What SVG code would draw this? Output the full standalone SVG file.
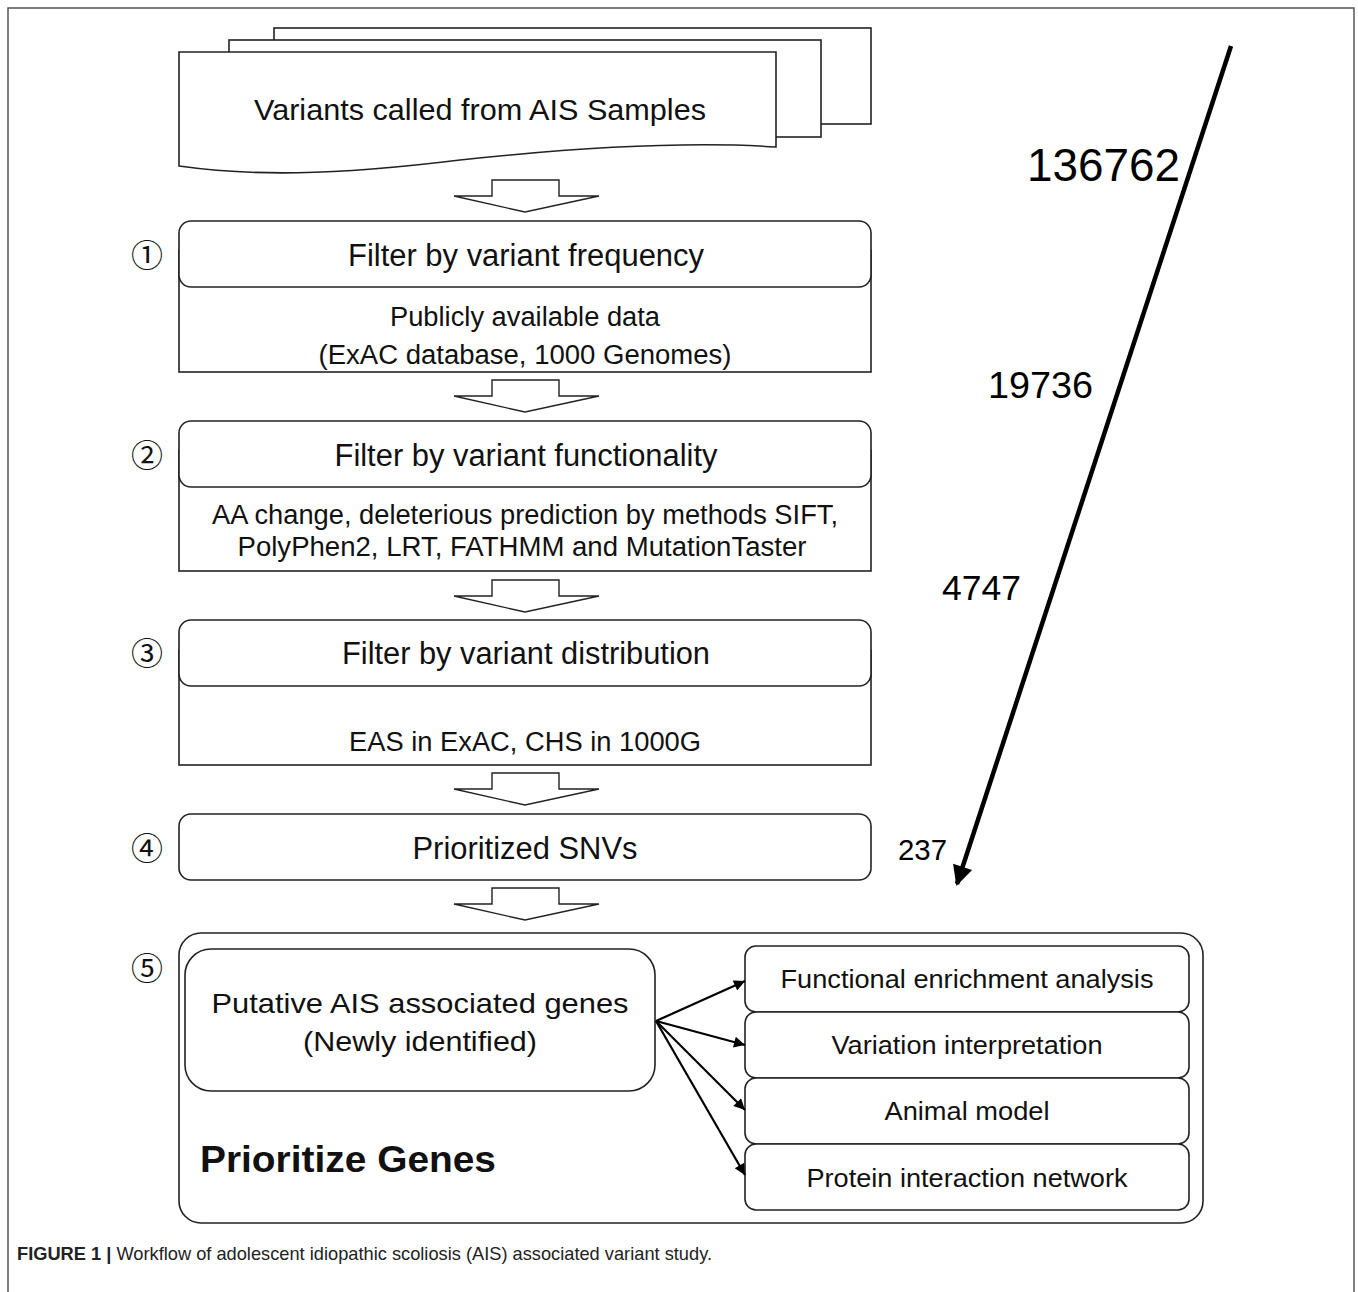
<svg xmlns="http://www.w3.org/2000/svg" width="1358" height="1292" viewBox="0 0 1358 1292">
<defs>
<style>
.box{fill:#fff;stroke:#222;stroke-width:1.6}
.blk{fill:#fff;stroke:#222;stroke-width:1.4}
.t{font-family:"Liberation Sans",Arial,sans-serif;fill:#111;text-anchor:middle}
.h{font-size:31px}
.b{font-size:27px}
.r{font-size:26px}
.num{font-family:"Liberation Sans",Arial,sans-serif;fill:#000}
.circ{font-family:"Noto Sans CJK KR","DejaVu Sans",sans-serif;font-size:32px;fill:#111;text-anchor:middle}
.con{stroke:#000;stroke-width:2.2;fill:none}
</style>
<marker id="ah" viewBox="0 0 10 10" refX="10" refY="5" markerWidth="14" markerHeight="11" markerUnits="userSpaceOnUse" orient="auto"><path d="M0,0 L10,5 L0,10 Z" fill="#000"/></marker>
<marker id="bigah" viewBox="0 0 10 10" refX="9" refY="5" markerWidth="24" markerHeight="20" markerUnits="userSpaceOnUse" orient="auto"><path d="M0,0 L10,5 L0,10 Z" fill="#000"/></marker>
</defs>
<path d="M8,1292 V8 H1354 V1292" fill="none" stroke="#555" stroke-width="1.5"/>

<g id="docs">
<rect class="box" x="274" y="28" width="597" height="96"/>
<rect class="box" x="229" y="40" width="592" height="97"/>
<path class="box" d="M179,52 H776 V147 C700,142 600,145 460,160 C330,176 250,176 179,166 Z"/>
<text class="t" x="480" y="120" font-size="30" textLength="452" lengthAdjust="spacingAndGlyphs">Variants called from AIS Samples</text>
</g>

<g id="blockarrows">
<path class="blk" d="M492,180 H559 V196 H599 L525,212 L454,196 H492 Z"/>
<path class="blk" d="M492,380 H559 V396 H599 L525,412 L454,396 H492 Z"/>
<path class="blk" d="M492,580 H559 V596 H599 L525,612 L454,596 H492 Z"/>
<path class="blk" d="M492,773 H559 V789 H599 L525,805 L454,789 H492 Z"/>
<path class="blk" d="M492,888 H559 V904 H599 L525,920 L454,904 H492 Z"/>
</g>

<g id="step1">
<text class="circ" x="147" y="267">①</text>
<rect class="box" x="179" y="250" width="692" height="122"/>
<rect class="box" x="179" y="221" width="692" height="66" rx="12"/>
<text class="t h" x="526" y="266" textLength="356" lengthAdjust="spacingAndGlyphs">Filter by variant frequency</text>
<text class="t b" x="525" y="326" textLength="270" lengthAdjust="spacingAndGlyphs">Publicly available data</text>
<text class="t b" x="525" y="364" textLength="413" lengthAdjust="spacingAndGlyphs">(ExAC database, 1000 Genomes)</text>
</g>

<g id="step2">
<text class="circ" x="147" y="467">②</text>
<rect class="box" x="179" y="450" width="692" height="121"/>
<rect class="box" x="179" y="421" width="692" height="66" rx="12"/>
<text class="t h" x="526" y="466" textLength="383" lengthAdjust="spacingAndGlyphs">Filter by variant functionality</text>
<text class="t b" x="525" y="524" textLength="626" lengthAdjust="spacingAndGlyphs">AA change, deleterious prediction by methods SIFT,</text>
<text class="t b" x="522" y="556" textLength="569" lengthAdjust="spacingAndGlyphs">PolyPhen2, LRT, FATHMM and MutationTaster</text>
</g>

<g id="step3">
<text class="circ" x="147" y="665">③</text>
<rect class="box" x="179" y="650" width="692" height="115"/>
<rect class="box" x="179" y="620" width="692" height="66" rx="12"/>
<text class="t h" x="526" y="664" textLength="368" lengthAdjust="spacingAndGlyphs">Filter by variant distribution</text>
<text class="t b" x="525" y="751" textLength="352" lengthAdjust="spacingAndGlyphs">EAS in ExAC, CHS in 1000G</text>
</g>

<g id="step4">
<text class="circ" x="147" y="860">④</text>
<rect class="box" x="179" y="814" width="692" height="66" rx="12"/>
<text class="t h" x="525" y="859" textLength="225" lengthAdjust="spacingAndGlyphs">Prioritized SNVs</text>
</g>

<g id="step5">
<text class="circ" x="147" y="980">⑤</text>
<rect class="box" x="179" y="933" width="1024" height="290" rx="22"/>
<text class="t" x="348" y="1172" font-size="37" font-weight="bold" textLength="296" lengthAdjust="spacingAndGlyphs">Prioritize Genes</text>
</g>

<g id="putative">
<rect class="box" x="185" y="949" width="470" height="142" rx="26"/>
<text class="t" x="420" y="1013" font-size="28" textLength="417" lengthAdjust="spacingAndGlyphs">Putative AIS associated genes</text>
<text class="t" x="420" y="1051" font-size="28" textLength="234" lengthAdjust="spacingAndGlyphs">(Newly identified)</text>
</g>

<g id="functional">
<rect class="box" x="745" y="946" width="444" height="66" rx="11"/>
<text class="t r" x="967" y="988" textLength="373" lengthAdjust="spacingAndGlyphs">Functional enrichment analysis</text>
</g>
<g id="variation">
<rect class="box" x="745" y="1012" width="444" height="66" rx="11"/>
<text class="t r" x="967" y="1054" textLength="271" lengthAdjust="spacingAndGlyphs">Variation interpretation</text>
</g>
<g id="animal">
<rect class="box" x="745" y="1078" width="444" height="66" rx="11"/>
<text class="t r" x="967" y="1120" textLength="165" lengthAdjust="spacingAndGlyphs">Animal model</text>
</g>
<g id="protein">
<rect class="box" x="745" y="1144" width="444" height="66" rx="11"/>
<text class="t r" x="967" y="1187" textLength="321" lengthAdjust="spacingAndGlyphs">Protein interaction network</text>
</g>

<g id="connectors">
<line class="con" x1="656" y1="1021" x2="745" y2="981" marker-end="url(#ah)"/>
<line class="con" x1="656" y1="1021" x2="745" y2="1045" marker-end="url(#ah)"/>
<line class="con" x1="656" y1="1021" x2="745" y2="1110" marker-end="url(#ah)"/>
<line class="con" x1="656" y1="1021" x2="745" y2="1175" marker-end="url(#ah)"/>
<line x1="1231" y1="46" x2="957" y2="884" stroke="#000" stroke-width="4.5" marker-end="url(#bigah)"/>
</g>

<g id="counts">
<text class="num" x="1027" y="181" font-size="46" textLength="153" lengthAdjust="spacingAndGlyphs">136762</text>
<text class="num" x="988" y="398" font-size="37" textLength="105" lengthAdjust="spacingAndGlyphs">19736</text>
<text class="num" x="942" y="600" font-size="35" textLength="79" lengthAdjust="spacingAndGlyphs">4747</text>
<text class="num" x="898" y="860" font-size="29" textLength="49" lengthAdjust="spacingAndGlyphs">237</text>
</g>

<g id="caption">
<text x="17" y="1260" font-family="'Liberation Sans',Arial,sans-serif" font-size="19" fill="#222" textLength="695" lengthAdjust="spacingAndGlyphs"><tspan font-weight="bold">FIGURE 1 |</tspan> Workflow of adolescent idiopathic scoliosis (AIS) associated variant study.</text>
</g>
</svg>
